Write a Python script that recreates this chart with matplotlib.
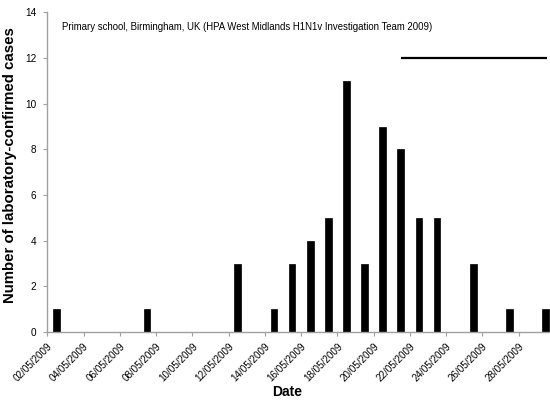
import matplotlib
matplotlib.use('Agg')

import matplotlib.pyplot as plt
import matplotlib.dates as mdates
import matplotlib.transforms as mtransforms
import numpy as np
import datetime as dt

#-- data --#
DATES = ['02/05/2009', '07/05/2009', '12/05/2009', '14/05/2009', '15/05/2009',
         '16/05/2009', '17/05/2009', '18/05/2009', '19/05/2009', '20/05/2009',
         '21/05/2009', '22/05/2009', '23/05/2009', '25/05/2009', '27/05/2009',
         '29/05/2009']
CASES = [1, 1, 3, 1, 3, 4, 5, 11, 3, 9, 8, 5, 5, 3, 1, 1]

# horizontal bar (closure period) : start / end date-time, height
LINE_START = '21/05/2009 12:00'
LINE_END = '29/05/2009 13:00'
LINE_Y = 12

TITLE = 'Primary school, Birmingham, UK (HPA West Midlands H1N1v Investigation Team 2009)'

plt.rcParams['font.family'] = ['Liberation Sans', 'DejaVu Sans']

days = [dt.datetime.strptime(d, '%d/%m/%Y') for d in DATES]
x = mdates.date2num(days) + 0.5
x0 = mdates.date2num(dt.datetime.strptime(LINE_START, '%d/%m/%Y %H:%M'))
x1 = mdates.date2num(dt.datetime.strptime(LINE_END, '%d/%m/%Y %H:%M'))

fig = plt.figure(figsize=(5.5, 4.03), dpi=100)
ax = fig.add_axes([0.086, 0.1762, 0.914, 0.7928])

ax.bar(x, CASES, width=0.37, color='black', edgecolor='black', linewidth=0.5)
ax.plot([x0, x1], [LINE_Y, LINE_Y], color='black', linewidth=1.6, solid_capstyle='butt')

start = mdates.date2num(days[0])
ax.set_xlim(start, start + 27.73)
ax.set_ylim(0, 14)
ax.set_yticks(np.arange(0, 15, 2))

ax.xaxis.set_major_locator(mdates.DayLocator(bymonthday=range(2, 31, 2)))
ax.xaxis.set_major_formatter(mdates.DateFormatter('%d/%m/%Y'))
#-- shift rotated labels a bit right, like excel --#
shift = mtransforms.ScaledTranslation(7.5/72., -1.5/72., fig.dpi_scale_trans)
for lab in ax.get_xticklabels():
	lab.set_rotation(45)
	lab.set_ha('right')
	lab.set_rotation_mode('anchor')
	lab.set_transform(lab.get_transform() + shift)

for s in ['top', 'right']:
	ax.spines[s].set_visible(False)
for s in ['left', 'bottom']:
	ax.spines[s].set_color('#a0a0a0')
	ax.spines[s].set_linewidth(1.0)
ax.tick_params(axis='both', colors='#a0a0a0', labelcolor='black', labelsize=7.1, length=3, width=0.8)
ax.tick_params(axis='y', pad=5, labelsize=7.2)

ax.text(0.03, 0.955, TITLE, transform=ax.transAxes, fontsize=6.9, va='center', ha='left')

ax.set_xlabel('Date', fontsize=10, fontweight='bold', labelpad=1, x=0.477)
ax.set_ylabel('Number of laboratory-confirmed cases', fontsize=10.8, fontweight='bold', labelpad=6, y=0.524)

plt.savefig('out.png', dpi=100)
